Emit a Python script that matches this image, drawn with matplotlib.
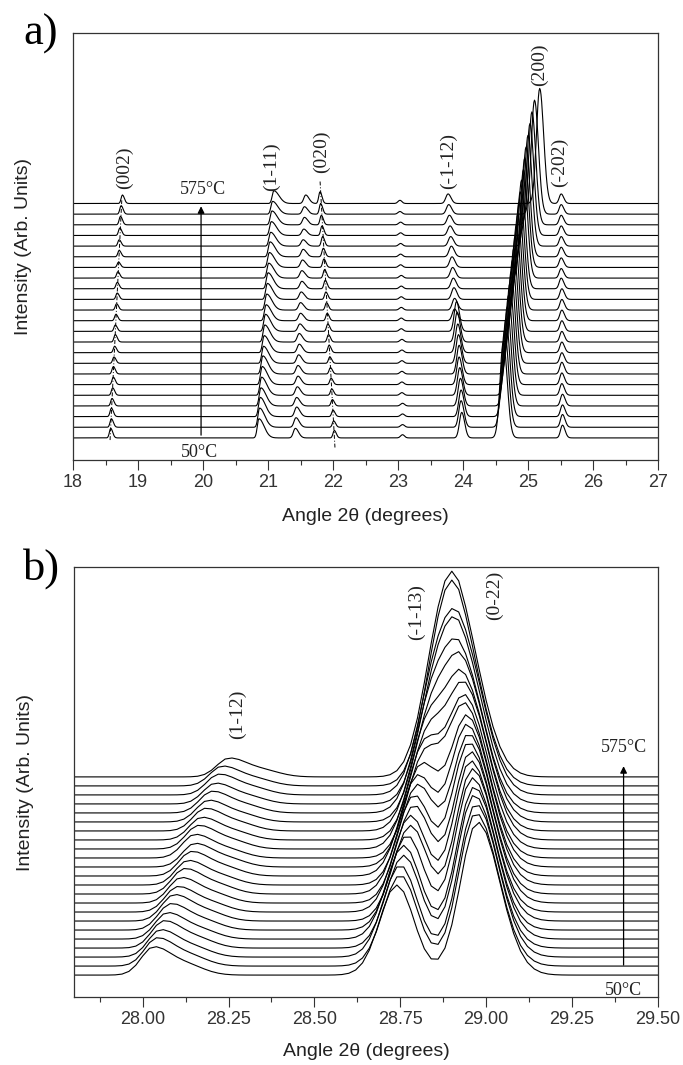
import numpy as np
import matplotlib.pyplot as plt

plt.rcParams['font.family'] = ['Liberation Sans', 'DejaVu Sans']

# 23 scans, index 0 = 50 C (bottom) ... index 22 = 575 C (top)
# heights in units of the vertical offset between two scans

# ---- panel a) peak positions (2theta) and heights per scan ----
A_POS_002 = [18.58, 18.59, 18.59, 18.60, 18.61, 18.62, 18.62, 18.63, 18.64, 18.65, 18.65, 18.66,
             18.67, 18.68, 18.68, 18.69, 18.70, 18.71, 18.71, 18.72, 18.73, 18.74, 18.76]
A_H_002 = [0.9, 0.8, 0.8, 0.7, 0.7, 0.7, 0.7, 0.6, 0.6, 0.7, 0.6, 0.6,
           0.6, 0.6, 0.6, 0.6, 0.5, 0.6, 0.6, 0.7, 0.8, 0.8, 0.8]
A_POS_111 = [20.86, 20.87, 20.88, 20.89, 20.90, 20.91, 20.92, 20.93, 20.94, 20.95, 20.96, 20.97,
             20.98, 20.99, 21.00, 21.01, 21.02, 21.03, 21.04, 21.05, 21.06, 21.07, 21.09]
A_H_111 = [1.8, 1.8, 1.8, 1.7, 1.7, 1.7, 1.7, 1.6, 1.6, 1.6, 1.6, 1.5,
           1.5, 1.5, 1.5, 1.4, 1.4, 1.4, 1.3, 1.3, 1.3, 1.2, 1.2]
A_POS_215 = [21.42, 21.43, 21.44, 21.44, 21.45, 21.46, 21.46, 21.47, 21.48, 21.48, 21.49, 21.50,
             21.50, 21.51, 21.52, 21.52, 21.53, 21.54, 21.54, 21.55, 21.56, 21.56, 21.58]
A_H_215 = [0.9, 0.9, 0.9, 0.8, 0.8, 0.8, 0.8, 0.8, 0.8, 0.8, 0.7, 0.7,
           0.7, 0.7, 0.7, 0.7, 0.7, 0.7, 0.6, 0.6, 0.7, 0.7, 0.8]
A_POS_020 = [22.02, 22.01, 22.00, 21.99, 21.98, 21.97, 21.96, 21.95, 21.94, 21.93, 21.92, 21.91,
             21.90, 21.89, 21.88, 21.87, 21.86, 21.85, 21.84, 21.83, 21.82, 21.81, 21.80]
A_H_020 = [0.7, 0.6, 0.6, 0.6, 0.6, 0.6, 0.6, 0.6, 0.7, 0.7, 0.7, 0.7,
           0.7, 0.7, 0.8, 0.8, 0.8, 0.8, 0.9, 0.9, 0.9, 1.0, 1.1]
A_POS_2305 = [23.07, 23.07, 23.07, 23.07, 23.06, 23.06, 23.06, 23.06, 23.06, 23.06, 23.05, 23.05,
              23.05, 23.05, 23.05, 23.05, 23.04, 23.04, 23.04, 23.04, 23.04, 23.03, 23.03]
A_H_2305 = [0.3, 0.25, 0.25, 0.25, 0.25, 0.25, 0.25, 0.25, 0.25, 0.25, 0.25, 0.25,
            0.25, 0.25, 0.25, 0.25, 0.25, 0.25, 0.25, 0.25, 0.25, 0.25, 0.3]
A_POS_M112 = [23.98, 23.97, 23.97, 23.96, 23.95, 23.94, 23.94, 23.93, 23.92, 23.91, 23.90, 23.87,
              23.87, 23.86, 23.85, 23.84, 23.83, 23.82, 23.81, 23.80, 23.79, 23.78, 23.77]
A_H_M112 = [2.4, 2.5, 2.5, 2.6, 2.6, 2.6, 2.7, 2.7, 2.7, 2.8, 2.8, 1.1,
            1.1, 1.1, 1.0, 1.0, 1.0, 1.0, 0.9, 0.9, 0.9, 0.9, 0.9]
A_POS_200 = [24.62, 24.64, 24.66, 24.68, 24.70, 24.72, 24.74, 24.76, 24.78, 24.80, 24.82, 24.84,
             24.86, 24.88, 24.90, 24.93, 24.95, 24.97, 25.00, 25.03, 25.06, 25.10, 25.18]
A_H_200 = [9.0, 9.1, 9.2, 9.3, 9.4, 9.5, 9.6, 9.7, 9.8, 9.9, 10.0, 10.0,
           10.1, 10.1, 10.2, 10.2, 10.3, 10.3, 10.4, 10.5, 10.6, 10.7, 10.8]
A_POS_M202 = [25.53, 25.53, 25.53, 25.53, 25.52, 25.52, 25.52, 25.52, 25.52, 25.52, 25.52, 25.52,
              25.52, 25.52, 25.51, 25.51, 25.51, 25.51, 25.51, 25.51, 25.51, 25.51, 25.51]
A_H_M202 = [1.2, 1.2, 1.1, 1.1, 1.1, 1.1, 1.1, 1.0, 1.0, 1.0, 1.0, 1.0,
            1.0, 1.0, 1.0, 0.9, 0.9, 0.9, 0.9, 0.9, 0.9, 0.9, 0.9]

# ---- panel b) ----
B_POS_112 = [28.03, 28.04, 28.05, 28.06, 28.07, 28.08, 28.09, 28.10, 28.11, 28.12, 28.13, 28.14,
             28.15, 28.15, 28.16, 28.17, 28.18, 28.19, 28.20, 28.21, 28.22, 28.23, 28.25]
B_H_112 = [3.0, 3.0, 2.9, 2.9, 2.8, 2.8, 2.8, 2.7, 2.7, 2.7, 2.6, 2.6,
           2.5, 2.5, 2.5, 2.4, 2.4, 2.3, 2.3, 2.2, 2.2, 2.1, 2.0]
B_POS_M113 = [28.74, 28.75, 28.75, 28.76, 28.76, 28.77, 28.78, 28.78, 28.79, 28.79, 28.80, 28.80,
              28.81, 28.82, 28.82, 28.83, 28.83, 28.84, 28.84, 28.85, 28.85, 28.86, 28.86]
B_H_M113 = [10.0, 10.1, 10.2, 10.3, 10.4, 10.5, 10.6, 10.7, 10.8, 10.9, 11.0, 11.0,
            11.1, 11.2, 11.3, 11.4, 11.5, 11.6, 11.7, 11.8, 11.8, 11.9, 12.0]
B_POS_022 = [28.975, 28.970, 28.970, 28.965, 28.965, 28.960, 28.960, 28.955, 28.955, 28.950, 28.950, 28.945,
             28.945, 28.940, 28.940, 28.940, 28.935, 28.935, 28.930, 28.930, 28.930, 28.925, 28.925]
B_H_022 = [17.0, 17.0, 17.0, 17.0, 16.9, 16.9, 16.9, 16.8, 16.8, 16.8, 16.7, 16.7,
           16.6, 16.6, 16.5, 16.5, 16.4, 16.4, 16.3, 16.3, 16.2, 16.1, 16.0]

n_scans = len(A_POS_200)


def peak(x, pos, h, sl, sr):
    # split gaussian, steeper on one side
    s = np.where(x < pos, sl, sr)
    return h * np.exp(-0.5 * ((x - pos) / s) ** 2)


fig = plt.figure(figsize=(6.83, 10.65), dpi=100)
axa = fig.add_axes([0.1069, 0.5681, 0.8565, 0.4009])
axb = fig.add_axes([0.1083, 0.0638, 0.8550, 0.4038])

serif = ['Liberation Serif', 'DejaVu Serif']
dashdot = (0, (4, 2, 1, 2))

# panel a
xa = np.arange(18.0, 27.0001, 0.01)
for k in range(n_scans):
    y = k + np.zeros_like(xa)
    y += peak(xa, A_POS_002[k], A_H_002[k], 0.02, 0.03)
    y += peak(xa, A_POS_111[k], A_H_111[k], 0.025, 0.08)
    y += peak(xa, A_POS_215[k], A_H_215[k], 0.03, 0.05)
    y += peak(xa, A_POS_020[k], A_H_020[k], 0.02, 0.03)
    y += peak(xa, A_POS_2305[k], A_H_2305[k], 0.03, 0.03)
    y += peak(xa, A_POS_M112[k], A_H_M112[k], 0.035, 0.045)
    y += peak(xa, A_POS_200[k], A_H_200[k], 0.05, 0.06)
    y += peak(xa, A_POS_M202[k], A_H_M202[k], 0.03, 0.04)
    axa.plot(xa, y, color='black', lw=0.8)

axa.plot([18.57, 18.75], [-0.2, 22.3], color='black', lw=0.7, ls=dashdot)
axa.plot([22.03, 21.80], [-0.9, 24.2], color='black', lw=0.7, ls=dashdot)
axa.annotate('', xy=(19.97, 22.0), xytext=(19.97, 0.0),
             arrowprops=dict(arrowstyle='-|>', color='black', lw=0.9, mutation_scale=10))
axa.text(20.0, 23.3, '575°C', family=serif, fontsize=13, ha='center', va='center', color='#222222')
axa.text(19.95, -1.4, '50°C', family=serif, fontsize=13, ha='center', va='center', color='#222222')

a_labels = ['(002)', '(1-11)', '(020)', '(-1-12)', '(200)', '(-202)']
a_label_x = [18.79, 21.06, 21.82, 23.77, 25.17, 25.49]
a_label_y = [25.4, 25.5, 26.9, 26.0, 35.0, 25.9]
for lab, lx, ly in zip(a_labels, a_label_x, a_label_y):
    axa.text(lx, ly, lab, family=serif, fontsize=14, rotation=90,
             ha='center', va='center', color='#222222')

axa.set_xlim(18, 27)
axa.set_ylim(-2.07, 38.0)
axa.set_xticks(np.arange(18, 28, 1))
axa.set_xticks(np.arange(18.5, 27, 1), minor=True)

# panel b
xb = np.arange(27.8, 29.5001, 0.02)
for k in range(n_scans):
    y = k + np.zeros_like(xb)
    y += peak(xb, B_POS_112[k], B_H_112[k], 0.035, 0.05)
    y += peak(xb, B_POS_112[k] + 0.1, 0.35 * B_H_112[k], 0.05, 0.05)
    y += peak(xb, B_POS_M113[k], B_H_M113[k], 0.05, 0.05)
    y += peak(xb, B_POS_022[k], B_H_022[k], 0.05, 0.065)
    axb.plot(xb, y, color='black', lw=0.8)

axb.annotate('', xy=(29.40, 23.5), xytext=(29.40, 0.8),
             arrowprops=dict(arrowstyle='-|>', color='black', lw=0.9, mutation_scale=10))
axb.text(29.40, 25.3, '575°C', family=serif, fontsize=13, ha='center', va='center', color='#222222')
axb.text(29.40, -1.7, '50°C', family=serif, fontsize=13, ha='center', va='center', color='#222222')

b_labels = ['(1-12)', '(-1-13)', '(0-22)']
b_label_x = [28.275, 28.796, 29.023]
b_label_y = [29.0, 40.3, 42.1]
for lab, lx, ly in zip(b_labels, b_label_x, b_label_y):
    axb.text(lx, ly, lab, family=serif, fontsize=14, rotation=90,
             ha='center', va='center', color='#222222')

axb.set_xlim(27.8, 29.5)
axb.set_ylim(-2.44, 45.3)
axb.set_xticks(np.arange(28.0, 29.51, 0.25))
axb.set_xticks(np.arange(27.875, 29.5, 0.25), minor=True)
axb.xaxis.set_major_formatter(plt.FormatStrFormatter('%.2f'))

for ax, lab_y in [(axa, -0.1335), (axb, -0.1256)]:
    ax.set_yticks([])
    for sp in ax.spines.values():
        sp.set_color('#333333')
        sp.set_linewidth(0.9)
    ax.tick_params(axis='x', which='major', direction='out', length=7, width=0.8,
                   pad=3, labelsize=13, colors='#333333')
    ax.tick_params(axis='x', which='minor', direction='out', length=3.5, width=0.8,
                   colors='#333333')
    ax.set_xlabel('Angle 2θ (degrees)', fontsize=14, color='#222222', va='center')
    ax.xaxis.set_label_coords(0.5, lab_y)
    ax.set_ylabel('Intensity (Arb. Units)', fontsize=14, color='#222222', va='center')
    ax.yaxis.set_label_coords(-0.0838, 0.5)

fig.text(23 / 683, 1 - 45 / 1065, 'a)', family=serif, fontsize=32, ha='left', va='baseline')
fig.text(23 / 683, 1 - 580 / 1065, 'b)', family=serif, fontsize=32, ha='left', va='baseline')

fig.savefig('out.png', dpi=100)
